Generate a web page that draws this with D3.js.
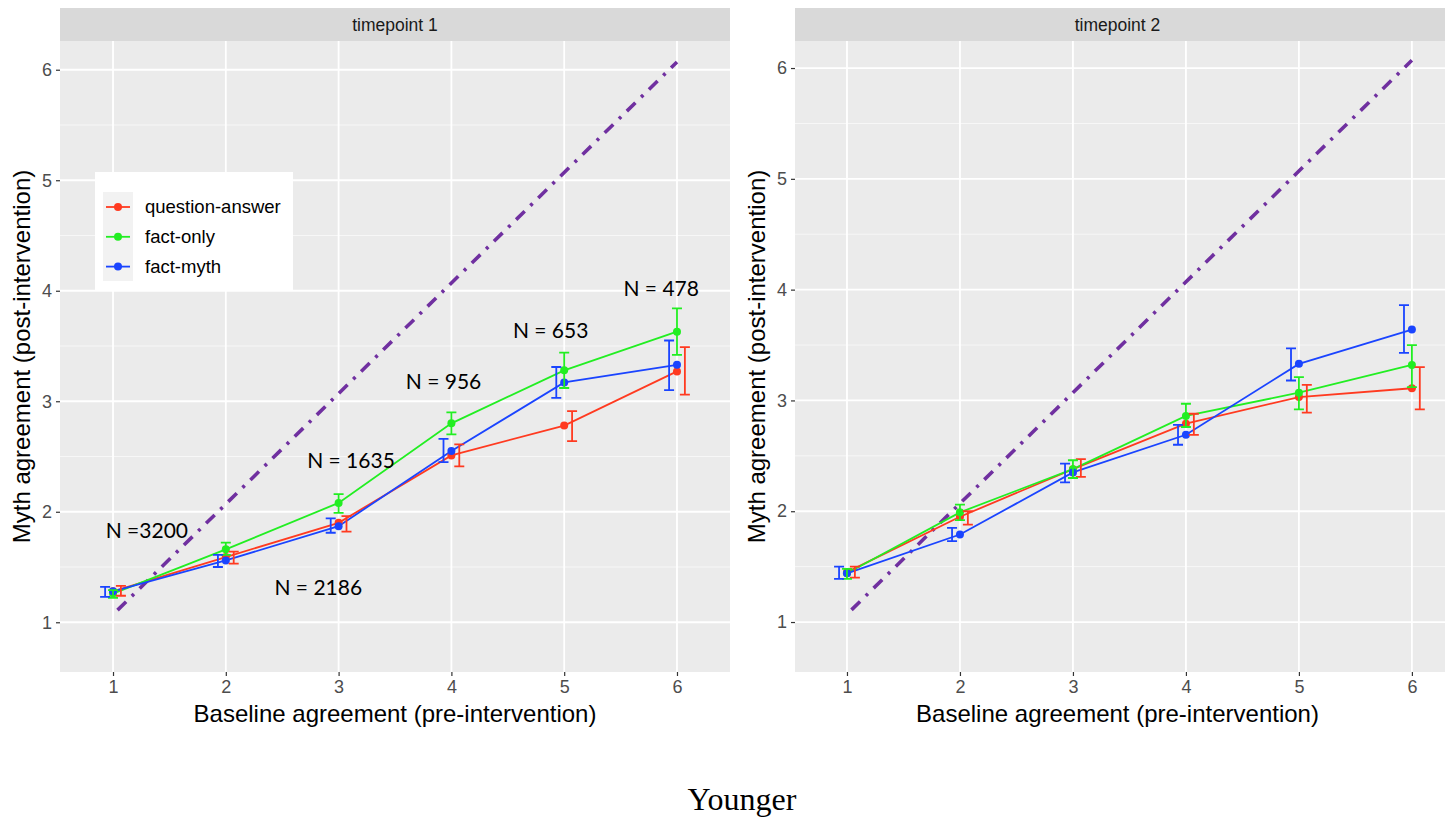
<!DOCTYPE html>
<html><head><meta charset="utf-8">
<script src="https://cdn.jsdelivr.net/npm/d3@7"></script>
<style>body{margin:0;background:#fff}svg{display:block}</style>
</head><body>
<svg id="c" width="1445" height="817"></svg>
<script>
// ---------- data ----------
const xTicks = [1, 2, 3, 4, 5, 6];
const yTicks = [1, 2, 3, 4, 5, 6];
const yMinor = [1.5, 2.5, 3.5, 4.5, 5.5];
const seriesNames = ["question-answer", "fact-only", "fact-myth"];
const seriesColors = ["#FF3A20", "#22EE22", "#1A44FF"];
const facetLabels = ["timepoint 1", "timepoint 2"];

// timepoint 1
const t1Mean  = [[1.28,1.59,1.90,2.51,2.78,3.27],[1.26,1.66,2.08,2.80,3.28,3.63],[1.28,1.56,1.87,2.55,3.17,3.33]];
const t1Low   = [[1.24,1.53,1.82,2.41,2.64,3.06],[1.22,1.61,1.99,2.70,3.12,3.42],[1.23,1.50,1.81,2.45,3.03,3.10]];
const t1High  = [[1.33,1.64,1.96,2.61,2.91,3.49],[1.29,1.72,2.16,2.90,3.44,3.84],[1.32,1.61,1.94,2.66,3.31,3.55]];
// timepoint 2
const t2Mean  = [[1.45,1.95,2.38,2.79,3.03,3.11],[1.44,1.99,2.38,2.86,3.07,3.32],[1.44,1.79,2.35,2.69,3.33,3.64]];
const t2Low   = [[1.40,1.88,2.31,2.69,2.89,2.92],[1.39,1.92,2.30,2.76,2.92,3.12],[1.39,1.73,2.26,2.60,3.18,3.43]];
const t2High  = [[1.50,2.00,2.47,2.88,3.14,3.30],[1.48,2.06,2.46,2.97,3.21,3.50],[1.50,1.85,2.43,2.78,3.47,3.86]];

const diagX = [1.04, 6.0];
const diagY = [1.11, 6.07];

const nLabels = ["N =3200", "N = 2186", "N = 1635", "N = 956", "N = 653", "N = 478"];
const nLabelX = [1.30, 2.82, 3.11, 3.93, 4.88, 5.86];
const nLabelY = [1.83, 1.31, 2.46, 3.18, 3.64, 4.02];

const dodge = [0.07, 0, -0.07];

// ---------- drawing ----------
const SANS = "Liberation Sans, Arial, sans-serif";
const svg = d3.select("#c");
svg.append("rect").attr("width",1445).attr("height",817).attr("fill","#fff");

function panel(cfg, mean, low, high, label, withLegend, withNotes) {
  const g = svg.append("g");
  const x = d3.scaleLinear().domain(cfg.xDom).range([cfg.left, cfg.right]);
  const y = d3.scaleLinear().domain(cfg.yDom).range([cfg.bottom, cfg.top]);
  const clipId = "clip" + cfg.left;
  svg.append("clipPath").attr("id", clipId).append("rect")
     .attr("x", cfg.left).attr("y", cfg.top).attr("width", cfg.right - cfg.left).attr("height", cfg.bottom - cfg.top);

  // strip
  g.append("rect").attr("x", cfg.left).attr("y", cfg.stripTop).attr("width", cfg.right - cfg.left)
   .attr("height", cfg.top - cfg.stripTop).attr("fill", "#D9D9D9");
  g.append("text").attr("x", (cfg.left + cfg.right0)/2).attr("y", (cfg.stripTop + cfg.top)/2).attr("dy","0.35em")
   .attr("text-anchor","middle").attr("font-family", SANS)
   .attr("font-size", 17.5).attr("fill","#1A1A1A").text(label);

  // panel bg
  g.append("rect").attr("x", cfg.left).attr("y", cfg.top).attr("width", cfg.right - cfg.left)
   .attr("height", cfg.bottom - cfg.top).attr("fill", "#EBEBEB");

  const grid = g.append("g");
  grid.selectAll(".ymin").data(yMinor).join("line")
    .attr("x1", cfg.left).attr("x2", cfg.right).attr("y1", d => y(d)).attr("y2", d => y(d))
    .attr("stroke", "#fff").attr("stroke-width", 0.8).attr("opacity", 0.8);
  grid.selectAll(".ymaj").data(yTicks).join("line")
    .attr("x1", cfg.left).attr("x2", cfg.right).attr("y1", d => y(d)).attr("y2", d => y(d))
    .attr("stroke", "#fff").attr("stroke-width", 1.8);
  grid.selectAll(".xmaj").data(xTicks).join("line")
    .attr("y1", cfg.top).attr("y2", cfg.bottom).attr("x1", d => x(d)).attr("x2", d => x(d))
    .attr("stroke", "#fff").attr("stroke-width", 1.8);

  // axes
  const ax = g.append("g").attr("transform", `translate(0,${cfg.bottom})`)
    .call(d3.axisBottom(x).tickValues(xTicks).tickFormat(d3.format("d")).tickSize(4).tickPadding(4));
  const ay = g.append("g").attr("transform", `translate(${cfg.left},0)`)
    .call(d3.axisLeft(y).tickValues(yTicks).tickFormat(d3.format("d")).tickSize(4).tickPadding(4));
  [ax, ay].forEach(a => {
    a.attr("font-size", null).attr("font-family", null);
    a.select(".domain").remove();
    a.selectAll("line").attr("stroke", "#333").attr("stroke-width", 1.2);
    a.selectAll("text").attr("font-family", SANS).attr("font-size", 18).attr("fill","#4D4D4D");
  });

  // axis titles
  g.append("text").attr("x", (cfg.left + cfg.right0)/2).attr("y", 722)
   .attr("text-anchor","middle").attr("font-family", SANS)
   .attr("font-size", 24).attr("fill","#000").text("Baseline agreement (pre-intervention)");
  g.append("text").attr("transform", `translate(${cfg.left - 38},${(cfg.top+cfg.bottom)/2}) rotate(-90)`)
   .attr("text-anchor","middle").attr("dy","0.35em").attr("font-family", SANS)
   .attr("font-size", 24).attr("fill","#000").text("Myth agreement (post-intervention)");

  const data = g.append("g").attr("clip-path", `url(#${clipId})`);

  // diagonal
  data.append("line").attr("x1", x(diagX[0])).attr("y1", y(diagY[0])).attr("x2", x(diagX[1])).attr("y2", y(diagY[1]))
    .attr("stroke", "#7030A0").attr("stroke-width", 3.6).attr("stroke-dasharray", "12,8,3,8");

  const line = d3.line().x((d,i) => x(xTicks[i])).y(d => y(d));
  seriesNames.forEach((s, k) => {
    data.append("path").attr("d", line(mean[k])).attr("fill","none")
      .attr("stroke", seriesColors[k]).attr("stroke-width", 1.8);
  });
  seriesNames.forEach((s, k) => {
    data.selectAll(".pt"+k).data(mean[k]).join("circle")
      .attr("cx", (d,i) => x(xTicks[i])).attr("cy", d => y(d)).attr("r", 4)
      .attr("fill", seriesColors[k]);
  });
  seriesNames.forEach((s, k) => {
    const eb = data.append("g").attr("stroke", seriesColors[k]).attr("stroke-width", 1.8).attr("fill","none");
    xTicks.forEach((xv, i) => {
      const cx = x(xv + dodge[k]);
      const y0 = y(low[k][i]), y1 = y(high[k][i]);
      eb.append("path").attr("d", `M${cx-5},${y0}H${cx+5}M${cx},${y0}V${y1}M${cx-5},${y1}H${cx+5}`);
    });
  });

  if (withNotes) {
    g.selectAll(".note").data(nLabels).join("text")
      .attr("x", (d,i) => x(nLabelX[i])).attr("y", (d,i) => y(nLabelY[i])).attr("dy","0.35em")
      .attr("text-anchor","middle").attr("font-family","Lato, 'Open Sans', sans-serif")
      .attr("font-size", 21).attr("fill","#000").text(d => d);
  }

  if (withLegend) {
    const lg = g.append("g");
    lg.append("rect").attr("x", 95).attr("y", 172).attr("width", 198).attr("height", 118).attr("fill","#fff");
    lg.append("rect").attr("x", 103).attr("y", 192).attr("width", 30).attr("height", 89).attr("fill","#F2F2F2");
    seriesNames.forEach((s, k) => {
      const yy = 207 + k*29.8;
      lg.append("line").attr("x1", 106).attr("x2", 130).attr("y1", yy).attr("y2", yy)
        .attr("stroke", seriesColors[k]).attr("stroke-width", 1.8);
      lg.append("circle").attr("cx", 118).attr("cy", yy).attr("r", 4).attr("fill", seriesColors[k]);
      lg.append("text").attr("x", 145).attr("y", yy).attr("dy","0.35em")
        .attr("font-family", SANS).attr("font-size", 18.5).attr("fill","#000").text(s);
    });
  }
}

panel({left:60, right:730, right0:730, top:41, bottom:672, stripTop:8, xDom:[0.53,6.47], yDom:[0.55,6.26]},
      t1Mean, t1Low, t1High, facetLabels[0], true, true);
panel({left:795, right:1465, right0:1440, top:41, bottom:672, stripTop:8, xDom:[0.54,6.47], yDom:[0.549,6.244]},
      t2Mean, t2Low, t2High, facetLabels[1], false, false);

svg.append("text").attr("x", 742).attr("y", 810).attr("text-anchor","middle")
  .attr("font-family","Liberation Serif, 'Times New Roman', serif").attr("font-size", 32).attr("fill","#000").text("Younger");
</script>
</body></html>
